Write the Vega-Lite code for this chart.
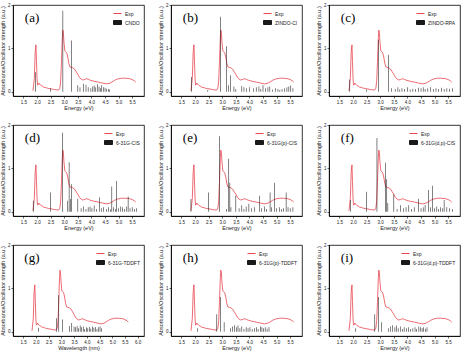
{
"$schema":"https://vega.github.io/schema/vega-lite/v6.json",
"padding":{"left":0,"top":1,"right":2,"bottom":0},
"background":"white",
"datasets":{
"exp":[{"e":1.85,"v":0.02},{"e":1.9,"v":0.3},{"e":1.93,"v":0.9},{"e":1.96,"v":1.08},{"e":1.98,"v":0.7},{"e":2.0,"v":0.3},{"e":2.02,"v":0.15},{"e":2.05,"v":0.17},{"e":2.07,"v":0.2},{"e":2.1,"v":0.17},{"e":2.13,"v":0.15},{"e":2.19,"v":0.13},{"e":2.25,"v":0.1},{"e":2.3,"v":0.1},{"e":2.38,"v":0.08},{"e":2.47,"v":0.07},{"e":2.55,"v":0.06},{"e":2.64,"v":0.05},{"e":2.72,"v":0.04},{"e":2.8,"v":0.04},{"e":2.84,"v":0.08},{"e":2.87,"v":0.25},{"e":2.9,"v":0.7},{"e":2.93,"v":1.25},{"e":2.95,"v":1.42},{"e":2.97,"v":1.35},{"e":2.99,"v":1.15},{"e":3.02,"v":0.95},{"e":3.05,"v":0.92},{"e":3.09,"v":0.9},{"e":3.13,"v":0.8},{"e":3.17,"v":0.65},{"e":3.21,"v":0.57},{"e":3.26,"v":0.56},{"e":3.32,"v":0.55},{"e":3.38,"v":0.52},{"e":3.44,"v":0.46},{"e":3.5,"v":0.4},{"e":3.56,"v":0.33},{"e":3.62,"v":0.29},{"e":3.68,"v":0.27},{"e":3.75,"v":0.28},{"e":3.82,"v":0.3},{"e":3.9,"v":0.28},{"e":3.98,"v":0.26},{"e":4.1,"v":0.24},{"e":4.26,"v":0.22},{"e":4.4,"v":0.2},{"e":4.55,"v":0.18},{"e":4.65,"v":0.19},{"e":4.75,"v":0.22},{"e":4.85,"v":0.26},{"e":4.95,"v":0.29},{"e":5.1,"v":0.31},{"e":5.25,"v":0.31},{"e":5.4,"v":0.3},{"e":5.5,"v":0.28},{"e":5.58,"v":0.25},{"e":5.63,"v":0.22}],
"a":[{"e":1.95,"f":0.45},{"e":2.5,"f":0.08},{"e":2.95,"f":1.87},{"e":3.26,"f":1.18},{"e":3.5,"f":0.15},{"e":3.58,"f":0.1},{"e":3.7,"f":0.18},{"e":3.8,"f":0.16},{"e":3.88,"f":0.1},{"e":3.98,"f":0.08},{"e":4.05,"f":0.12},{"e":4.1,"f":0.14},{"e":4.16,"f":0.1},{"e":4.22,"f":0.17},{"e":4.28,"f":0.12},{"e":4.33,"f":0.08},{"e":4.38,"f":0.15},{"e":4.44,"f":0.1},{"e":4.5,"f":0.09},{"e":4.55,"f":0.07},{"e":4.62,"f":0.06},{"e":4.67,"f":0.05}],
"b":[{"e":1.87,"f":0.34},{"e":2.47,"f":0.04},{"e":2.94,"f":1.73},{"e":3.15,"f":1.05},{"e":3.23,"f":0.15},{"e":3.3,"f":0.38},{"e":3.43,"f":0.12},{"e":3.5,"f":0.06},{"e":3.72,"f":0.13},{"e":3.8,"f":0.1},{"e":3.9,"f":0.08},{"e":4.0,"f":0.1},{"e":4.15,"f":0.08},{"e":4.25,"f":0.1},{"e":4.35,"f":0.12},{"e":4.42,"f":0.06},{"e":4.5,"f":0.15},{"e":4.6,"f":0.08},{"e":4.68,"f":0.1},{"e":4.75,"f":0.12},{"e":4.85,"f":0.05},{"e":4.95,"f":0.08},{"e":5.05,"f":0.06},{"e":5.12,"f":0.04},{"e":5.2,"f":0.06},{"e":5.3,"f":0.08},{"e":5.38,"f":0.1},{"e":5.45,"f":0.12},{"e":5.52,"f":0.14},{"e":5.6,"f":0.08}],
"c":[{"e":1.88,"f":0.28},{"e":2.5,"f":0.05},{"e":2.94,"f":1.2},{"e":3.3,"f":0.85},{"e":3.42,"f":0.08},{"e":3.55,"f":0.06},{"e":3.65,"f":0.1},{"e":3.72,"f":0.05},{"e":3.8,"f":0.08},{"e":3.9,"f":0.06},{"e":4.0,"f":0.1},{"e":4.1,"f":0.05},{"e":4.2,"f":0.07},{"e":4.3,"f":0.06},{"e":4.4,"f":0.09},{"e":4.5,"f":0.08},{"e":4.58,"f":0.1},{"e":4.65,"f":0.06},{"e":4.75,"f":0.08},{"e":4.85,"f":0.1},{"e":4.95,"f":0.06},{"e":5.05,"f":0.08},{"e":5.15,"f":0.06},{"e":5.25,"f":0.09},{"e":5.35,"f":0.06},{"e":5.45,"f":0.08},{"e":5.55,"f":0.07},{"e":5.65,"f":0.08}],
"d":[{"e":1.86,"f":0.25},{"e":2.5,"f":0.44},{"e":2.93,"f":1.82},{"e":3.13,"f":0.25},{"e":3.18,"f":1.14},{"e":3.23,"f":0.29},{"e":3.27,"f":0.63},{"e":3.5,"f":0.3},{"e":3.62,"f":0.08},{"e":3.7,"f":0.12},{"e":3.8,"f":0.06},{"e":3.88,"f":0.1},{"e":3.95,"f":0.12},{"e":4.02,"f":0.08},{"e":4.1,"f":0.14},{"e":4.18,"f":0.06},{"e":4.3,"f":0.33},{"e":4.38,"f":0.08},{"e":4.45,"f":0.1},{"e":4.55,"f":0.06},{"e":4.62,"f":0.1},{"e":4.7,"f":0.05},{"e":4.75,"f":0.58},{"e":4.82,"f":0.1},{"e":4.88,"f":0.06},{"e":4.92,"f":0.71},{"e":5.0,"f":0.08},{"e":5.08,"f":0.12},{"e":5.15,"f":0.1},{"e":5.22,"f":0.06},{"e":5.3,"f":0.12},{"e":5.35,"f":0.35},{"e":5.42,"f":0.08},{"e":5.5,"f":0.1},{"e":5.58,"f":0.06},{"e":5.65,"f":0.08}],
"e":[{"e":1.85,"f":0.29},{"e":2.5,"f":0.44},{"e":2.9,"f":1.74},{"e":3.15,"f":0.06},{"e":3.24,"f":1.22},{"e":3.28,"f":0.67},{"e":3.32,"f":0.1},{"e":3.5,"f":0.37},{"e":3.62,"f":0.08},{"e":3.72,"f":0.15},{"e":3.8,"f":0.06},{"e":3.88,"f":0.12},{"e":3.98,"f":0.18},{"e":4.08,"f":0.08},{"e":4.18,"f":0.1},{"e":4.38,"f":0.37},{"e":4.45,"f":0.08},{"e":4.55,"f":0.12},{"e":4.62,"f":0.06},{"e":4.76,"f":0.44},{"e":4.82,"f":0.1},{"e":4.92,"f":0.67},{"e":5.0,"f":0.08},{"e":5.1,"f":0.1},{"e":5.18,"f":0.06},{"e":5.26,"f":0.08},{"e":5.35,"f":0.44},{"e":5.42,"f":0.1},{"e":5.5,"f":0.08},{"e":5.6,"f":0.1}],
"f":[{"e":1.9,"f":0.27},{"e":2.5,"f":0.46},{"e":2.88,"f":1.7},{"e":3.2,"f":1.13},{"e":3.24,"f":0.75},{"e":3.28,"f":0.2},{"e":3.5,"f":0.4},{"e":3.62,"f":0.06},{"e":3.75,"f":0.15},{"e":3.85,"f":0.08},{"e":3.95,"f":0.1},{"e":4.05,"f":0.15},{"e":4.15,"f":0.06},{"e":4.25,"f":0.1},{"e":4.4,"f":0.3},{"e":4.5,"f":0.08},{"e":4.58,"f":0.1},{"e":4.65,"f":0.15},{"e":4.77,"f":0.5},{"e":4.85,"f":0.1},{"e":4.93,"f":0.6},{"e":5.0,"f":0.08},{"e":5.08,"f":0.12},{"e":5.15,"f":0.06},{"e":5.22,"f":0.1},{"e":5.3,"f":0.08},{"e":5.35,"f":0.27},{"e":5.45,"f":0.1},{"e":5.55,"f":0.08},{"e":5.65,"f":0.06}],
"g":[{"e":2.11,"f":0.09},{"e":2.81,"f":0.31},{"e":2.9,"f":0.84},{"e":3.04,"f":0.28},{"e":3.33,"f":0.13},{"e":3.41,"f":0.2},{"e":3.5,"f":0.12},{"e":3.56,"f":0.1},{"e":3.62,"f":0.13},{"e":3.68,"f":0.08},{"e":3.74,"f":0.14},{"e":3.8,"f":0.1},{"e":3.86,"f":0.12},{"e":3.92,"f":0.06},{"e":3.98,"f":0.1},{"e":4.04,"f":0.08},{"e":4.1,"f":0.11},{"e":4.16,"f":0.07},{"e":4.22,"f":0.12},{"e":4.28,"f":0.09},{"e":4.34,"f":0.11},{"e":4.4,"f":0.06},{"e":4.46,"f":0.1},{"e":4.52,"f":0.12},{"e":4.58,"f":0.08}],
"h":[{"e":2.1,"f":0.08},{"e":2.8,"f":0.4},{"e":2.93,"f":0.8},{"e":3.07,"f":0.22},{"e":3.3,"f":0.08},{"e":3.38,"f":0.12},{"e":3.45,"f":0.15},{"e":3.52,"f":0.1},{"e":3.58,"f":0.14},{"e":3.65,"f":0.08},{"e":3.72,"f":0.12},{"e":3.8,"f":0.06},{"e":3.88,"f":0.1},{"e":3.95,"f":0.08},{"e":4.02,"f":0.1},{"e":4.1,"f":0.06},{"e":4.18,"f":0.08},{"e":4.26,"f":0.1},{"e":4.32,"f":0.06},{"e":4.4,"f":0.12},{"e":4.46,"f":0.1},{"e":4.52,"f":0.08},{"e":4.58,"f":0.1},{"e":4.65,"f":0.07},{"e":4.72,"f":0.1}],
"i":[{"e":2.1,"f":0.08},{"e":2.8,"f":0.4},{"e":2.94,"f":0.8},{"e":3.05,"f":0.22},{"e":3.3,"f":0.08},{"e":3.38,"f":0.12},{"e":3.46,"f":0.15},{"e":3.54,"f":0.1},{"e":3.6,"f":0.14},{"e":3.66,"f":0.08},{"e":3.74,"f":0.12},{"e":3.82,"f":0.06},{"e":3.88,"f":0.1},{"e":3.96,"f":0.08},{"e":4.04,"f":0.1},{"e":4.12,"f":0.06},{"e":4.2,"f":0.08},{"e":4.28,"f":0.1},{"e":4.34,"f":0.06},{"e":4.42,"f":0.12},{"e":4.48,"f":0.1},{"e":4.54,"f":0.08},{"e":4.6,"f":0.1},{"e":4.66,"f":0.07},{"e":4.72,"f":0.1}]
},
"vconcat":[
{"hconcat":[
{"width":131,"height":91,"layer":[
{"data":{"name":"exp"},"mark":{"type":"line","strokeWidth":0.8},"encoding":{"x":{"field":"e","type":"quantitative","scale":{"domain":[1.3,5.75],"nice":false},"axis":{"values":[1.5,2,2.5,3,3.5,4,4.5,5,5.5],"format":".1f","tickCount":20,"title":"Energy (eV)"}},"y":{"field":"v","type":"quantitative","scale":{"domain":[-0.1,2],"nice":false},"axis":{"values":[0,1,2],"format":".0f","title":"Absorbance/Oscillator strength (a.u.)"}},"color":{"datum":"Exp","scale":{"domain":["Exp","CNDO"],"range":["#e8454f","#1a1a1a"]},"legend":{"encode":{"symbols":{"update":{"shape":{"signal":"datum.value === 'Exp' ? 'stroke' : 'M-1,-0.5H1V0.5H-1Z'"}}}}}}}},
{"data":{"name":"a"},"mark":{"type":"bar","width":0.55},"encoding":{"x":{"field":"e","type":"quantitative"},"y":{"field":"f","type":"quantitative"},"y2":{"datum":0},"color":{"datum":"CNDO"}}},
{"data":{"values":[{"t":"(a)"}]},"mark":{"type":"text","font":"Liberation Serif","fontSize":13,"align":"left"},"encoding":{"text":{"field":"t"},"x":{"datum":1.55},"y":{"datum":1.7}}}
]},
{"width":131,"height":91,"layer":[
{"data":{"name":"exp"},"mark":{"type":"line","strokeWidth":0.8},"encoding":{"x":{"field":"e","type":"quantitative","scale":{"domain":[1.3,5.75],"nice":false},"axis":{"values":[1.5,2,2.5,3,3.5,4,4.5,5,5.5],"format":".1f","tickCount":20,"title":"Energy (eV)"}},"y":{"field":"v","type":"quantitative","scale":{"domain":[-0.1,2],"nice":false},"axis":{"values":[0,1,2],"format":".0f","title":"Absorbance/Oscillator strength (a.u.)"}},"color":{"datum":"Exp","scale":{"domain":["Exp","ZINDO-CI"],"range":["#e8454f","#1a1a1a"]},"legend":{"encode":{"symbols":{"update":{"shape":{"signal":"datum.value === 'Exp' ? 'stroke' : 'M-1,-0.5H1V0.5H-1Z'"}}}}}}}},
{"data":{"name":"b"},"mark":{"type":"bar","width":0.55},"encoding":{"x":{"field":"e","type":"quantitative"},"y":{"field":"f","type":"quantitative"},"y2":{"datum":0},"color":{"datum":"ZINDO-CI"}}},
{"data":{"values":[{"t":"(b)"}]},"mark":{"type":"text","font":"Liberation Serif","fontSize":13,"align":"left"},"encoding":{"text":{"field":"t"},"x":{"datum":1.55},"y":{"datum":1.7}}}
]},
{"width":131,"height":91,"layer":[
{"data":{"name":"exp"},"mark":{"type":"line","strokeWidth":0.8},"encoding":{"x":{"field":"e","type":"quantitative","scale":{"domain":[1.3,5.75],"nice":false},"axis":{"values":[1.5,2,2.5,3,3.5,4,4.5,5,5.5],"format":".1f","tickCount":20,"title":"Energy (eV)"}},"y":{"field":"v","type":"quantitative","scale":{"domain":[-0.1,2],"nice":false},"axis":{"values":[0,1,2],"format":".0f","title":"Absorbance/Oscillator strength (a.u.)"}},"color":{"datum":"Exp","scale":{"domain":["Exp","ZINDO-RPA"],"range":["#e8454f","#1a1a1a"]},"legend":{"encode":{"symbols":{"update":{"shape":{"signal":"datum.value === 'Exp' ? 'stroke' : 'M-1,-0.5H1V0.5H-1Z'"}}}}}}}},
{"data":{"name":"c"},"mark":{"type":"bar","width":0.55},"encoding":{"x":{"field":"e","type":"quantitative"},"y":{"field":"f","type":"quantitative"},"y2":{"datum":0},"color":{"datum":"ZINDO-RPA"}}},
{"data":{"values":[{"t":"(c)"}]},"mark":{"type":"text","font":"Liberation Serif","fontSize":13,"align":"left"},"encoding":{"text":{"field":"t"},"x":{"datum":1.55},"y":{"datum":1.7}}}
]}
],"spacing":13,"resolve":{"scale":{"color":"independent"},"legend":{"color":"independent"}}},
{"hconcat":[
{"width":131,"height":91,"layer":[
{"data":{"name":"exp"},"mark":{"type":"line","strokeWidth":0.8},"encoding":{"x":{"field":"e","type":"quantitative","scale":{"domain":[1.3,5.75],"nice":false},"axis":{"values":[1.5,2,2.5,3,3.5,4,4.5,5,5.5],"format":".1f","tickCount":20,"title":"Energy (eV)"}},"y":{"field":"v","type":"quantitative","scale":{"domain":[-0.1,2],"nice":false},"axis":{"values":[0,1,2],"format":".0f","title":"Absorbance/Oscillator strength (a.u.)"}},"color":{"datum":"Exp","scale":{"domain":["Exp","6-31G-CIS"],"range":["#e8454f","#1a1a1a"]},"legend":{"encode":{"symbols":{"update":{"shape":{"signal":"datum.value === 'Exp' ? 'stroke' : 'M-1,-0.5H1V0.5H-1Z'"}}}}}}}},
{"data":{"name":"d"},"mark":{"type":"bar","width":0.55},"encoding":{"x":{"field":"e","type":"quantitative"},"y":{"field":"f","type":"quantitative"},"y2":{"datum":0},"color":{"datum":"6-31G-CIS"}}},
{"data":{"values":[{"t":"(d)"}]},"mark":{"type":"text","font":"Liberation Serif","fontSize":13,"align":"left"},"encoding":{"text":{"field":"t"},"x":{"datum":1.55},"y":{"datum":1.7}}}
]},
{"width":131,"height":91,"layer":[
{"data":{"name":"exp"},"mark":{"type":"line","strokeWidth":0.8},"encoding":{"x":{"field":"e","type":"quantitative","scale":{"domain":[1.3,5.75],"nice":false},"axis":{"values":[1.5,2,2.5,3,3.5,4,4.5,5,5.5],"format":".1f","tickCount":20,"title":"Energy (eV)"}},"y":{"field":"v","type":"quantitative","scale":{"domain":[-0.1,2],"nice":false},"axis":{"values":[0,1,2],"format":".0f","title":"Absorbance/Oscillator strength (a.u.)"}},"color":{"datum":"Exp","scale":{"domain":["Exp","6-31G(p)-CIS"],"range":["#e8454f","#1a1a1a"]},"legend":{"encode":{"symbols":{"update":{"shape":{"signal":"datum.value === 'Exp' ? 'stroke' : 'M-1,-0.5H1V0.5H-1Z'"}}}}}}}},
{"data":{"name":"e"},"mark":{"type":"bar","width":0.55},"encoding":{"x":{"field":"e","type":"quantitative"},"y":{"field":"f","type":"quantitative"},"y2":{"datum":0},"color":{"datum":"6-31G(p)-CIS"}}},
{"data":{"values":[{"t":"(e)"}]},"mark":{"type":"text","font":"Liberation Serif","fontSize":13,"align":"left"},"encoding":{"text":{"field":"t"},"x":{"datum":1.55},"y":{"datum":1.7}}}
]},
{"width":131,"height":91,"layer":[
{"data":{"name":"exp"},"mark":{"type":"line","strokeWidth":0.8},"encoding":{"x":{"field":"e","type":"quantitative","scale":{"domain":[1.3,5.75],"nice":false},"axis":{"values":[1.5,2,2.5,3,3.5,4,4.5,5,5.5],"format":".1f","tickCount":20,"title":"Energy (eV)"}},"y":{"field":"v","type":"quantitative","scale":{"domain":[-0.1,2],"nice":false},"axis":{"values":[0,1,2],"format":".0f","title":"Absorbance/Oscillator strength (a.u.)"}},"color":{"datum":"Exp","scale":{"domain":["Exp","6-31G(d,p)-CIS"],"range":["#e8454f","#1a1a1a"]},"legend":{"encode":{"symbols":{"update":{"shape":{"signal":"datum.value === 'Exp' ? 'stroke' : 'M-1,-0.5H1V0.5H-1Z'"}}}}}}}},
{"data":{"name":"f"},"mark":{"type":"bar","width":0.55},"encoding":{"x":{"field":"e","type":"quantitative"},"y":{"field":"f","type":"quantitative"},"y2":{"datum":0},"color":{"datum":"6-31G(d,p)-CIS"}}},
{"data":{"values":[{"t":"(f)"}]},"mark":{"type":"text","font":"Liberation Serif","fontSize":13,"align":"left"},"encoding":{"text":{"field":"t"},"x":{"datum":1.55},"y":{"datum":1.7}}}
]}
],"spacing":13,"resolve":{"scale":{"color":"independent"},"legend":{"color":"independent"}}},
{"hconcat":[
{"width":131,"height":91,"layer":[
{"data":{"name":"exp"},"mark":{"type":"line","strokeWidth":0.8},"encoding":{"x":{"field":"e","type":"quantitative","scale":{"domain":[1.3,6.05],"nice":false},"axis":{"values":[1.5,2,2.5,3,3.5,4,4.5,5,5.5,6],"format":".1f","tickCount":20,"title":"Wavelength (nm)"}},"y":{"field":"v","type":"quantitative","scale":{"domain":[-0.1,2],"nice":false},"axis":{"values":[0,1,2],"format":".0f","title":"Absorbance/Oscillator strength (a.u.)"}},"color":{"datum":"Exp","scale":{"domain":["Exp","6-31G-TDDFT"],"range":["#e8454f","#1a1a1a"]},"legend":{"encode":{"symbols":{"update":{"shape":{"signal":"datum.value === 'Exp' ? 'stroke' : 'M-1,-0.5H1V0.5H-1Z'"}}}}}}}},
{"data":{"name":"g"},"mark":{"type":"bar","width":0.55},"encoding":{"x":{"field":"e","type":"quantitative"},"y":{"field":"f","type":"quantitative"},"y2":{"datum":0},"color":{"datum":"6-31G-TDDFT"}}},
{"data":{"values":[{"t":"(g)"}]},"mark":{"type":"text","font":"Liberation Serif","fontSize":13,"align":"left"},"encoding":{"text":{"field":"t"},"x":{"datum":1.55},"y":{"datum":1.7}}}
]},
{"width":131,"height":91,"layer":[
{"data":{"name":"exp"},"mark":{"type":"line","strokeWidth":0.8},"encoding":{"x":{"field":"e","type":"quantitative","scale":{"domain":[1.3,5.75],"nice":false},"axis":{"values":[1.5,2,2.5,3,3.5,4,4.5,5,5.5],"format":".1f","tickCount":20,"title":"Energy (eV)"}},"y":{"field":"v","type":"quantitative","scale":{"domain":[-0.1,2],"nice":false},"axis":{"values":[0,1,2],"format":".0f","title":"Absorbance/Oscillator strength (a.u.)"}},"color":{"datum":"Exp","scale":{"domain":["Exp","6-31G(p)-TDDFT"],"range":["#e8454f","#1a1a1a"]},"legend":{"encode":{"symbols":{"update":{"shape":{"signal":"datum.value === 'Exp' ? 'stroke' : 'M-1,-0.5H1V0.5H-1Z'"}}}}}}}},
{"data":{"name":"h"},"mark":{"type":"bar","width":0.55},"encoding":{"x":{"field":"e","type":"quantitative"},"y":{"field":"f","type":"quantitative"},"y2":{"datum":0},"color":{"datum":"6-31G(p)-TDDFT"}}},
{"data":{"values":[{"t":"(h)"}]},"mark":{"type":"text","font":"Liberation Serif","fontSize":13,"align":"left"},"encoding":{"text":{"field":"t"},"x":{"datum":1.55},"y":{"datum":1.7}}}
]},
{"width":131,"height":91,"layer":[
{"data":{"name":"exp"},"mark":{"type":"line","strokeWidth":0.8},"encoding":{"x":{"field":"e","type":"quantitative","scale":{"domain":[1.3,5.75],"nice":false},"axis":{"values":[1.5,2,2.5,3,3.5,4,4.5,5,5.5],"format":".1f","tickCount":20,"title":"Energy (eV)"}},"y":{"field":"v","type":"quantitative","scale":{"domain":[-0.1,2],"nice":false},"axis":{"values":[0,1,2],"format":".0f","title":"Absorbance/Oscillator strength (a.u.)"}},"color":{"datum":"Exp","scale":{"domain":["Exp","6-31G(d,p)-TDDFT"],"range":["#e8454f","#1a1a1a"]},"legend":{"encode":{"symbols":{"update":{"shape":{"signal":"datum.value === 'Exp' ? 'stroke' : 'M-1,-0.5H1V0.5H-1Z'"}}}}}}}},
{"data":{"name":"i"},"mark":{"type":"bar","width":0.55},"encoding":{"x":{"field":"e","type":"quantitative"},"y":{"field":"f","type":"quantitative"},"y2":{"datum":0},"color":{"datum":"6-31G(d,p)-TDDFT"}}},
{"data":{"values":[{"t":"(i)"}]},"mark":{"type":"text","font":"Liberation Serif","fontSize":13,"align":"left"},"encoding":{"text":{"field":"t"},"x":{"datum":1.55},"y":{"datum":1.7}}}
]}
],"spacing":13,"resolve":{"scale":{"color":"independent"},"legend":{"color":"independent"}}}
],
"spacing":9,
"resolve":{"scale":{"color":"independent"},"legend":{"color":"independent"}},
"config":{
"view":{"stroke":"black","strokeWidth":0.8},
"axis":{"labelFont":"Liberation Sans","titleFont":"Liberation Sans","titleFontWeight":"normal","labelFontSize":4.5,"titleFontSize":5.5,"tickSize":2,"tickWidth":0.6,"tickColor":"black","domainColor":"black","domainWidth":0.8,"labelPadding":1,"titlePadding":2,"grid":false,"labelColor":"#222","titleColor":"#222","labelOverlap":false},
"legend":{"orient":"top-right","offset":4,"title":null,"labelFont":"Liberation Sans","labelFontSize":5,"labelColor":"#222","padding":0,"rowPadding":1,"symbolSize":64,"symbolStrokeWidth":1,"labelOffset":3}
}
}
